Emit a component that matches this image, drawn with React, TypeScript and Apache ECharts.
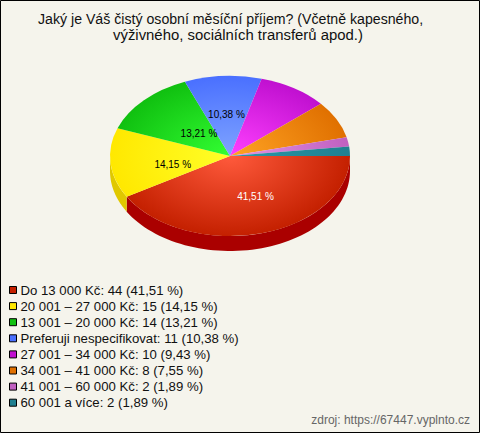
import React, { useEffect, useRef } from "react";
import * as echarts from "echarts";

const categories = [
  "Do 13 000 Kč",
  "20 001 – 27 000 Kč",
  "13 001 – 20 000 Kč",
  "Preferuji nespecifikovat",
  "27 001 – 34 000 Kč",
  "34 001 – 41 000 Kč",
  "41 001 – 60 000 Kč",
  "60 001 a více",
];
const counts = [44, 15, 14, 11, 10, 8, 2, 2];
const percents = ["41,51", "14,15", "13,21", "10,38", "9,43", "7,55", "1,89", "1,89"];
const titleLines = [
  "Jaký je Váš čistý osobní měsíční příjem? (Včetně kapesného,",
  "výživného, sociálních transferů apod.)",
];

// styles
const edgeColors = ["#c42000", "#ffe800", "#10c010", "#4a70ff", "#c010d0", "#e07000", "#c060c0", "#208090"];
const centerColors = ["#ff5a3c", "#ffff28", "#33ff33", "#7fa4ff", "#ff40ff", "#ffa424", "#e494e4", "#2a98a8"];
const sideColors = ["#aa0000", "#e0c800", "#0a900a", "#3050c0", "#900090", "#b05000", "#905090", "#106070"];
const labelOffsets: ([number, number] | null)[] = [[9.7, 1.7], [2.5, 5.4], [12, 5], [0, -2], null, null, null, null];
const labelColors = ["#fff", "#000", "#000", "#000", "#000", "#000", "#000", "#000"];

const CX = 230, CY = 156, RX = 120, RY = 80, DEPTH = 15;
const total = counts.reduce((a, b) => a + b, 0);

function sliceAngles(i: number): [number, number] {
  let before = 0;
  for (let k = 0; k < i; k++) before += counts[k];
  return [(before / total) * Math.PI * 2, ((before + counts[i]) / total) * Math.PI * 2];
}

function renderSlice(i: number) {
  const [a0, a1] = sliceAngles(i);
  const children: any[] = [];
  const s0 = Math.max(a0, 0), s1 = Math.min(a1, Math.PI);
  if (s1 > s0) {
    const top: number[][] = [], bottom: number[][] = [];
    const n = 64;
    for (let k = 0; k <= n; k++) {
      const t = s0 + ((s1 - s0) * k) / n;
      const x = CX + RX * Math.cos(t), y = CY + RY * Math.sin(t);
      top.push([x, y]);
      bottom.unshift([x, y + DEPTH]);
    }
    children.push({
      type: "polygon",
      shape: { points: top.concat(bottom) },
      style: { fill: sideColors[i] },
    });
  }
  children.push({
    type: "sector",
    x: CX,
    y: CY,
    scaleY: RY / RX,
    shape: { cx: 0, cy: 0, r: RX, r0: 0, startAngle: a0, endAngle: a1, clockwise: true },
    style: {
      fill: {
        type: "radial",
        x: 0,
        y: 0,
        r: RX,
        global: true,
        colorStops: [
          { offset: 0, color: centerColors[i] },
          { offset: 1, color: edgeColors[i] },
        ],
      },
    },
  });
  const off = labelOffsets[i];
  if (off) {
    const mid = (a0 + a1) / 2;
    children.push({
      type: "text",
      z2: 100,
      x: CX + 0.5 * RX * Math.cos(mid) + off[0],
      y: CY + 0.5 * RY * Math.sin(mid) + off[1],
      style: {
        text: percents[i] + " %",
        fill: labelColors[i],
        font: '10px "Liberation Sans", Arial, sans-serif',
        align: "center",
        verticalAlign: "middle",
      },
    });
  }
  return { type: "group", children };
}

export default function App() {
  const ref = useRef<HTMLDivElement>(null);
  useEffect(() => {
    document.body.style.margin = "0";
    const chart = echarts.init(ref.current!, undefined, { renderer: "svg" });
    const names = categories.map((c, i) => `${c}: ${counts[i]} (${percents[i]} %)`);
    chart.setOption({
      animation: false,
      backgroundColor: "#f5f4ec",
      title: [
        {
          text: titleLines[0],
          left: 38,
          top: 12,
          padding: 0,
          textStyle: { fontFamily: "Liberation Sans", fontSize: 14.15, fontWeight: "normal", color: "#111" },
        },
        {
          text: titleLines[1],
          left: 113,
          top: 27,
          padding: 0,
          textStyle: { fontFamily: "Liberation Sans", fontSize: 14.9, fontWeight: "normal", color: "#111" },
        },
        {
          text: "zdroj: https://67447.vyplnto.cz",
          right: 10,
          top: 414,
          padding: 0,
          textStyle: { fontFamily: "Liberation Sans", fontSize: 12, fontWeight: "normal", color: "#666" },
        },
      ],
      legend: {
        orient: "vertical",
        left: 9,
        top: 283,
        padding: 0,
        itemWidth: 7,
        itemHeight: 7,
        itemGap: 2.1,
        icon: "rect",
        selectedMode: false,
        data: names,
        textStyle: {
          fontFamily: "Liberation Sans",
          fontSize: 13.2,
          color: "#111",
          padding: [0, 0, 0, -1],
          lineHeight: 14,
          height: 14,
        },
        itemStyle: { borderColor: "#000", borderWidth: 1 },
      },
      graphic: [
        {
          type: "rect",
          z: 50,
          silent: true,
          shape: { x: 0.5, y: 0.5, width: 479, height: 432 },
          style: { fill: "none", stroke: "#000", lineWidth: 1 },
        },
      ],
      series: names.map((name, i) => ({
        type: "custom",
        name,
        coordinateSystem: "none",
        itemStyle: { color: edgeColors[i] },
        data: [counts[i]],
        renderItem: () => renderSlice(i),
      })),
    });
    return () => chart.dispose();
  }, []);
  return <div ref={ref} style={{ width: 480, height: 433 }} />;
}
